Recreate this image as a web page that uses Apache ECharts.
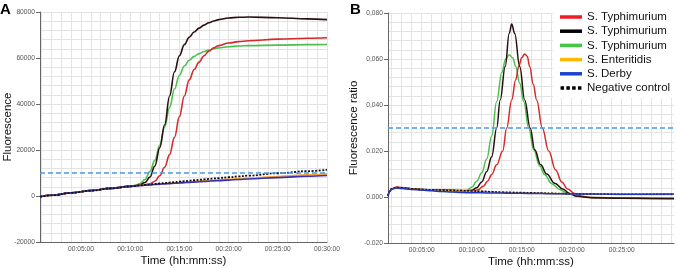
<!DOCTYPE html>
<html>
<head>
<meta charset="utf-8">
<title>Fluorescence</title>
<script src="https://cdn.jsdelivr.net/npm/echarts@6/dist/echarts.min.js"></script>
<style>
  html, body { margin: 0; padding: 0; background: #fff; }
  #chart { width: 677px; height: 268px; }
</style>
</head>
<body>
<div id="chart"></div>
<script>
// ---- panel A : raw fluorescence, time in minutes ----
var timeA   = [0.83, 2, 4, 6, 8, 10, 10.5, 11, 11.5, 12, 12.5, 13, 13.5, 14, 14.5, 15, 15.5, 16, 16.5, 17, 17.5, 18, 18.5, 19, 20, 21, 22, 25, 28, 30];
var redA    = [-300, 300, 1350, 2350, 3300, 4200, 4450, 4650, 4900, 5200, 6400, 8800, 12500, 18000, 25500, 34500, 43500, 50500, 55000, 58200, 61000, 63000, 64400, 65400, 66500, 67100, 67500, 68200, 68600, 68800];
var blackA  = [-300, 300, 1350, 2350, 3300, 4200, 4450, 4900, 5900, 8200, 13000, 21000, 31000, 43500, 54000, 61000, 65800, 69000, 71300, 73000, 74300, 75300, 76100, 76700, 77400, 77700, 77800, 77500, 77000, 76700];
var greenA  = [-300, 300, 1350, 2350, 3300, 4200, 4600, 5400, 7200, 10600, 15500, 22000, 30000, 38500, 46500, 52500, 56500, 59000, 60700, 61900, 62800, 63500, 64000, 64400, 64900, 65200, 65400, 65600, 65800, 65900];
var orangeA = [-300, 300, 1350, 2350, 3300, 4200, 4430, 4600, 4780, 4950, 5100, 5250, 5400, 5550, 5700, 5850, 6000, 6150, 6300, 6450, 6600, 6750, 6880, 7000, 7250, 7500, 7750, 8500, 9200, 9600];
var blueA   = [-300, 300, 1350, 2350, 3300, 4200, 4400, 4550, 4700, 4850, 5000, 5130, 5260, 5390, 5520, 5650, 5780, 5910, 6040, 6170, 6300, 6430, 6560, 6680, 6920, 7150, 7380, 8000, 8600, 8900];
var negA    = [-300, 300, 1350, 2350, 3300, 4200, 4430, 4650, 4850, 5050, 5250, 5450, 5650, 5850, 6050, 6250, 6450, 6650, 6850, 7050, 7250, 7450, 7620, 7800, 8150, 8500, 8850, 9900, 10800, 11400];
var thresholdA = 10000;

// ---- panel B : fluorescence ratio, [minute, ratio] ----
var redB = [[1.63, 0.0004], [1.8, 0.0025], [2.0, 0.0036], [2.5, 0.0043], [3, 0.0041], [4, 0.0036], [5, 0.0032], [6, 0.0030], [7, 0.0029], [8, 0.0028], [9, 0.0027], [10, 0.0026],
  [10.6, 0.0030], [11.2, 0.0048], [11.6, 0.0070], [12, 0.0098], [12.5, 0.0140], [13.1, 0.0200], [13.5, 0.0300], [14, 0.0422], [14.4, 0.0510], [14.7, 0.0567], [15, 0.0605], [15.3, 0.0622],
  [15.55, 0.0612], [15.8, 0.0567], [16.15, 0.0490], [16.5, 0.0422], [17.06, 0.0300], [17.7, 0.0200], [18.4, 0.0117], [19, 0.0065], [19.6, 0.0035], [20.3, 0.0015], [21, 0.0003],
  [22, -0.0002], [25, -0.0005], [28, -0.0007], [30.23, -0.0008]];
var blackB = [[1.63, 0.0004], [1.8, 0.0025], [2.0, 0.0036], [2.5, 0.0041], [3, 0.0040], [4, 0.0036], [5, 0.0033], [6, 0.0031], [7, 0.0030], [8, 0.0029], [9, 0.0028], [9.5, 0.0027],
  [10, 0.0029], [10.5, 0.0040], [11, 0.0065], [11.5, 0.0110], [12, 0.0175], [12.5, 0.0300], [12.85, 0.0422], [13.35, 0.0567], [13.75, 0.0711], [14.0, 0.0752], [14.3, 0.0711],
  [14.8, 0.0567], [15.3, 0.0422], [15.85, 0.0300], [16.3, 0.0205], [16.9, 0.0140], [17.5, 0.0100], [18.3, 0.0060], [19.1, 0.0035], [19.8, 0.0015], [20.5, 0.0003],
  [22, -0.0003], [25, -0.0005], [28, -0.0006], [30.23, -0.0007]];
var greenB = [[1.63, 0.0004], [1.8, 0.0025], [2.0, 0.0036], [2.5, 0.0041], [3, 0.0039], [4, 0.0035], [5, 0.0032], [6, 0.0030], [7, 0.0029], [8, 0.0028], [9, 0.0027], [9.5, 0.0029],
  [10, 0.0042], [10.5, 0.0068], [11, 0.0105], [11.5, 0.0165], [12, 0.0265], [12.5, 0.0415], [13, 0.0540], [13.4, 0.0600], [13.75, 0.0618], [14.1, 0.0605], [14.4, 0.0567],
  [14.8, 0.0495], [15.2, 0.0415], [15.7, 0.0300], [16.2, 0.0205], [16.8, 0.0135], [17.3, 0.0097], [18, 0.0058], [18.8, 0.0033], [19.5, 0.0018], [20.5, 0.0004],
  [22, -0.0002], [25, -0.0004], [28, -0.0005], [30.23, -0.0005]];
var orangeB = [[1.63, 0.0004], [1.8, 0.0024], [2.0, 0.0035], [2.5, 0.0040], [3, 0.0039], [4, 0.0035], [5, 0.0032], [6, 0.0030], [7, 0.0029], [8, 0.0028], [9, 0.0027], [10, 0.0025],
  [11, 0.0024], [12, 0.0022], [13, 0.0020], [14, 0.0019], [15, 0.0018], [16, 0.0017], [17, 0.0016], [18, 0.0015], [19, 0.0014], [20, 0.0013], [22, 0.0012], [25, 0.0011], [30.23, 0.0011]];
var blueB = [[1.63, 0.0004], [1.8, 0.0024], [2.0, 0.0034], [2.5, 0.0039], [3, 0.0037], [4, 0.0033], [5, 0.0030], [6, 0.0027], [7, 0.0024], [8, 0.0022], [9, 0.0020], [10, 0.0018],
  [11, 0.0018], [12, 0.0017], [13, 0.0017], [14, 0.0016], [15, 0.0016], [16, 0.0015], [17, 0.0015], [18, 0.0014], [19, 0.0014], [20, 0.0013], [22, 0.0013], [25, 0.0012], [30.23, 0.0013]];
var negB = [[1.63, 0.0004], [1.8, 0.0025], [2.0, 0.0036], [2.5, 0.0041], [3, 0.0040], [4, 0.0036], [5, 0.0033], [6, 0.0031], [7, 0.0030], [8, 0.0029], [9, 0.0028], [10, 0.0026],
  [11, 0.0025], [12, 0.0023], [13, 0.0021], [14, 0.0020], [15, 0.0019], [16, 0.0018], [17, 0.0017], [18, 0.0016], [19, 0.0015], [20, 0.0014], [22, 0.0013], [25, 0.0012], [30.23, 0.0012]];
var thresholdB = 0.03;

// ---- axes ticks / labels ----
var minutesA = [1, 2, 3, 4, 5, 6, 7, 8, 9, 10, 11, 12, 13, 14, 15, 16, 17, 18, 19, 20, 21, 22, 23, 24, 25, 26, 27, 28, 29, 30];
var minutesB = [2, 3, 4, 5, 6, 7, 8, 9, 10, 11, 12, 13, 14, 15, 16, 17, 18, 19, 20, 21, 22, 23, 24, 25, 26, 27, 28, 29, 30];
var timeLabelsA = [5, 10, 15, 20, 25, 30];
var timeLabelsB = [5, 10, 15, 20, 25];
var seriesNames = ['S. Typhimurium #1', 'S. Typhimurium #2', 'S. Typhimurium #3', 'S. Enteritidis', 'S. Derby', 'Negative control'];
var legendColors = ['#ee1c24', '#000000', '#44c844', '#ffb800', '#1a44cc', '#000000'];

var gridColor = '#e3e3e3';
var axisColor = '#666';
var labelStyle = { fontSize: 6.7, color: '#555' };
var nameStyle = { fontSize: 11.5, color: '#111' };
var font = 'Liberation Sans, Arial, sans-serif';

function fmtTime(v) {
    var m = Math.round(v);
    return '00:' + (m < 10 ? '0' : '') + m + ':00';
}
function fmtCount(v) {
    return String(Math.round(v));
}
function fmtRatio(v) {
    var s = v.toFixed(3);
    return v >= 0.039 ? s.replace('.', ',') : s;
}
function pairs(t, v) {
    return t.map(function (x, i) { return [x, v[i]]; });
}

function xAxis(idx, min, max, ticks, labels) {
    return {
        type: 'value', gridIndex: idx, min: min, max: max,
        name: 'Time (hh:mm:ss)', nameLocation: 'middle', nameGap: 13, nameMoveOverlap: false,
        nameTextStyle: nameStyle,
        axisLine: { show: true, onZero: false, lineStyle: { color: axisColor } },
        axisTick: { show: false, customValues: ticks },
        axisLabel: { customValues: labels, formatter: fmtTime, fontSize: labelStyle.fontSize, color: labelStyle.color, margin: 4 },
        splitLine: { show: true, lineStyle: { color: gridColor, width: 1 } }
    };
}
function yAxis(idx, min, max, step, name, gap, fmt) {
    return {
        type: 'value', gridIndex: idx, min: min, max: max, interval: step,
        name: name, nameLocation: 'middle', nameGap: gap, nameMoveOverlap: false,
        nameTextStyle: nameStyle,
        axisLine: { show: true, onZero: false, lineStyle: { color: axisColor } },
        axisTick: { show: true, length: 4, lineStyle: { color: axisColor } },
        axisLabel: { fontSize: labelStyle.fontSize, color: labelStyle.color, margin: 5, formatter: fmt },
        splitLine: { show: true, lineStyle: { color: gridColor, width: 1 } },
        minorTick: { show: false, splitNumber: 5 },
        minorSplitLine: { show: true, lineStyle: { color: gridColor, width: 1 } }
    };
}
function line(name, idx, data, color, width, dash) {
    return {
        name: name, type: 'line', xAxisIndex: idx, yAxisIndex: idx, data: data,
        showSymbol: false, symbol: 'none', smooth: 0.4, smoothMonotone: 'x',
        lineStyle: { color: color, width: width, type: dash || 'solid' },
        itemStyle: { color: color },
        emphasis: { disabled: true }, silent: true
    };
}
function threshold(value) {
    return {
        silent: true, symbol: 'none', label: { show: false },
        lineStyle: { color: '#4a9ae6', type: [5, 3], width: 1.5 },
        data: [{ yAxis: value }]
    };
}

var sA = [
    line(seriesNames[2], 0, pairs(timeA, greenA), '#4cc04c', 1.6),
    line(seriesNames[0], 0, pairs(timeA, redA), '#d42a2a', 1.6),
    line(seriesNames[1], 0, pairs(timeA, blackA), '#2a0f0f', 1.6),
    line(seriesNames[3], 0, pairs(timeA, orangeA), '#f2a33a', 1.6),
    line(seriesNames[4], 0, pairs(timeA, blueA), '#3a30b0', 1.6),
    line(seriesNames[5], 0, pairs(timeA, negA), '#111', 1.8, [2, 1.5])
];
sA[0].markLine = threshold(thresholdA);
var sB = [
    line(seriesNames[2], 1, greenB, '#4cc04c', 1.5),
    line(seriesNames[0], 1, redB, '#d42a2a', 1.5),
    line(seriesNames[1], 1, blackB, '#2a0f0f', 1.5),
    line(seriesNames[3], 1, orangeB, '#f2a33a', 1.5),
    line(seriesNames[5], 1, negB, '#111', 1.6, [2, 1.5]),
    line(seriesNames[4], 1, blueB, '#2035c0', 1.5)
];
sB[0].markLine = threshold(thresholdB);

var dotted = 'path://M0 0h35v35H0z M58 0h35v35H58z M116 0h35v35H116z M174 0h35v35H174z';
var legendData = seriesNames.map(function (n, i) {
    return { name: n, icon: i === 5 ? dotted : 'rect', itemStyle: { color: legendColors[i] } };
});

var chart = echarts.init(document.getElementById('chart'));
chart.setOption({
    animation: false,
    textStyle: { fontFamily: font },
    title: [
        { text: 'A', left: 0, top: 2, padding: 0, textStyle: { fontSize: 15, fontWeight: 'bold', color: '#000', fontFamily: font } },
        { text: 'B', left: 350, top: 2, padding: 0, textStyle: { fontSize: 15, fontWeight: 'bold', color: '#000', fontFamily: font } }
    ],
    legend: {
        left: 553, top: 7, orient: 'vertical', align: 'left', selectedMode: false,
        backgroundColor: '#fff', padding: [3, 4, 3, 7],
        itemWidth: 22, itemHeight: 3.5, itemGap: 0.2,
        textStyle: { fontSize: 11.5, color: '#111', lineHeight: 14, fontFamily: font },
        formatter: function (n) { return n.replace(/ #\d$/, ''); },
        data: legendData
    },
    grid: [
        { left: 40, top: 12, width: 287, height: 230, outerBoundsMode: 'none' },
        { left: 388, top: 13, width: 286, height: 230, outerBoundsMode: 'none' }
    ],
    xAxis: [xAxis(0, 0.83, 30, minutesA, timeLabelsA), xAxis(1, 1.63, 30.23, minutesB, timeLabelsB)],
    yAxis: [
        yAxis(0, -20000, 80000, 20000, 'Fluorescence', 26, fmtCount),
        yAxis(1, -0.02, 0.08, 0.02, 'Fluorescence ratio', 28, fmtRatio)
    ],
    series: sA.concat(sB)
});
window.onresize = function () { chart.resize(); };
</script>
</body>
</html>
